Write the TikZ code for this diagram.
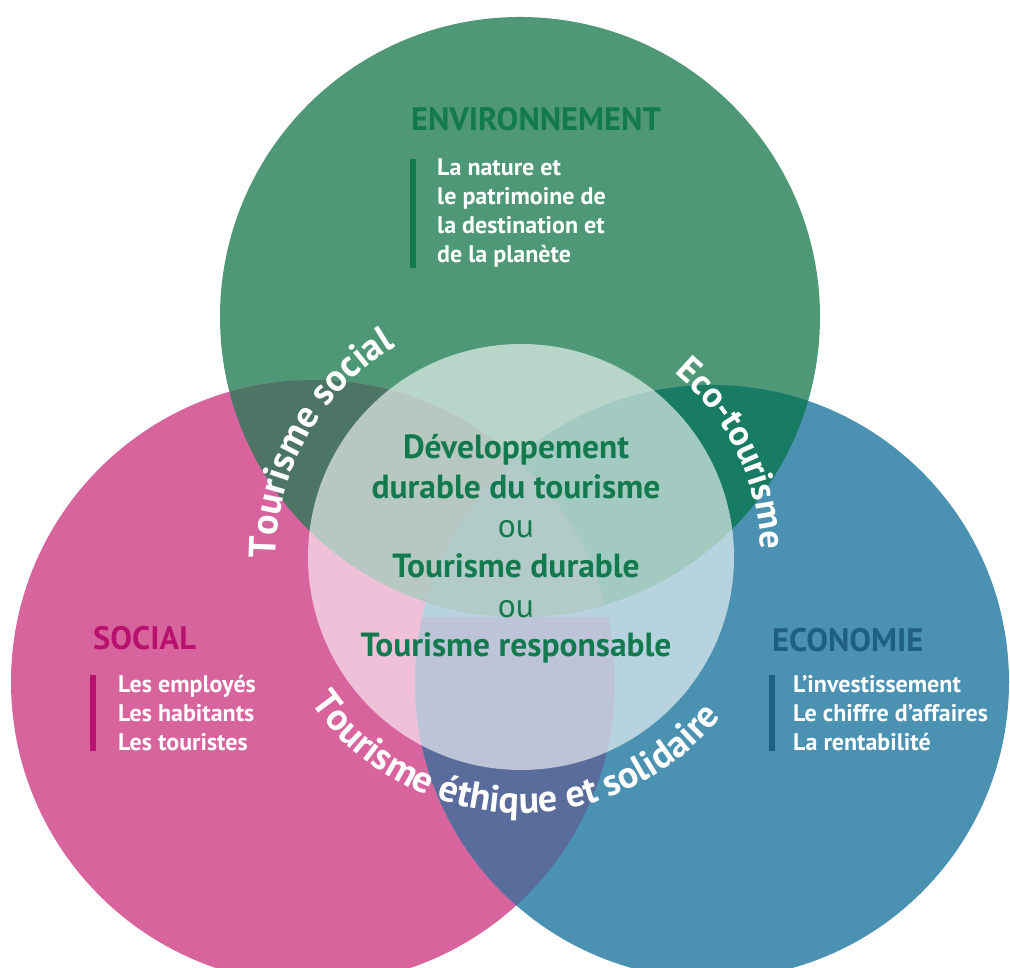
\documentclass[tikz,border=0pt]{standalone}
\usepackage{fontspec}
\setmainfont{PT Sans}
\usetikzlibrary{decorations.text}

\definecolor{envgreen}{HTML}{4E9878}
\definecolor{socpink}{HTML}{D8649E}
\definecolor{ecoblue}{HTML}{4B92B2}
\definecolor{envsoc}{HTML}{4D7565}
\definecolor{enveco}{HTML}{187B64}
\definecolor{socecoc}{HTML}{5A6C9C}
\definecolor{allthree}{HTML}{3F7E78}
\definecolor{envdark}{HTML}{137A50}
\definecolor{socdark}{HTML}{B8116E}
\definecolor{ecodark}{HTML}{1F5F85}

\tikzset{
  headtext/.style={font=\fontsize{32.5}{32.5}\selectfont\bfseries, inner sep=0pt},
  listtext/.style={font=\fontsize{24}{29}\selectfont\bfseries, text=white, align=left, inner sep=0pt, anchor=north west},
  listbar/.style={line width=6pt},
  midtext/.style={font=\fontsize{33.5}{39.6}\selectfont\bfseries, text=envdark, align=center},
  arctext/.style 2 args={decorate, decoration={text along path, text align=center,
    text={|\fontsize{#1}{#1}\selectfont\bfseries\color{white}|#2}}}
}

\begin{document}
\begin{tikzpicture}[x=1pt,y=1pt]
\useasboundingbox (0,0) rectangle (1010,968);
\clip (0,0) rectangle (1010,968);

\coordinate (env) at (520,651);
\coordinate (soc) at (313,286);
\coordinate (eco) at (712,286);
\coordinate (mid) at (521,411);

% the three circles
\fill[envgreen] (env) circle (300pt);
\fill[socpink] (soc) circle (302pt);
\fill[ecoblue] (eco) circle (297pt);

% overlaps
\begin{scope}
  \clip (env) circle (300pt);
  \fill[envsoc] (soc) circle (302pt);
  \fill[enveco] (eco) circle (297pt);
  \clip (soc) circle (302pt);
  \fill[allthree] (eco) circle (297pt);
\end{scope}
\begin{scope}
  \clip (soc) circle (302pt);
  \clip (eco) circle (297pt);
  \fill[socecoc] (0,0) rectangle (1010,351);
\end{scope}

% centre circle
\fill[white, fill opacity=0.6] (mid) circle (213pt);

% curved labels
\path[arctext={38}{Tourisme social}] ([shift={(190:245pt)}]mid) arc[start angle=190, end angle=111, radius=245pt];
\path[arctext={36}{Eco-tourisme}] ([shift={(60:240pt)}]mid) arc[start angle=60, end angle=-8, radius=240pt];
\path[arctext={38}{Tourisme éthique et solidaire}] ([shift={(200:256pt)}]mid) arc[start angle=200, end angle=336, radius=256pt];

% centre text
\node[midtext] (dd) at (516,419) {Développement\\durable du tourisme\\{\mdseries ou}\\Tourisme durable\\{\mdseries ou}\\Tourisme responsable};

% environnement
\node[headtext, text=envdark] (envhead) at (536,849) {ENVIRONNEMENT};
\node[listtext] (envlist) at (437,809) {La nature et\\le patrimoine de\\la destination et\\de la planète};
\draw[listbar, envdark] ([xshift=-24pt]envlist.north west) -- ([xshift=-24pt]envlist.south west);

% social
\node[headtext, text=socdark, anchor=west] (sochead) at (93,330) {SOCIAL};
\node[listtext] (soclist) at (118,293) {Les employés\\Les habitants\\Les touristes};
\draw[listbar, socdark] ([xshift=-25pt]soclist.north west) -- ([xshift=-25pt]soclist.south west);

% economie
\node[headtext, text=ecodark, anchor=west] (ecohead) at (772,328) {ECONOMIE};
\node[listtext] (ecolist) at (793,293) {L'investissement\\Le chiffre d'affaires\\La rentabilité};
\draw[listbar, ecodark] ([xshift=-21pt]ecolist.north west) -- ([xshift=-21pt]ecolist.south west);
\end{tikzpicture}
\end{document}
